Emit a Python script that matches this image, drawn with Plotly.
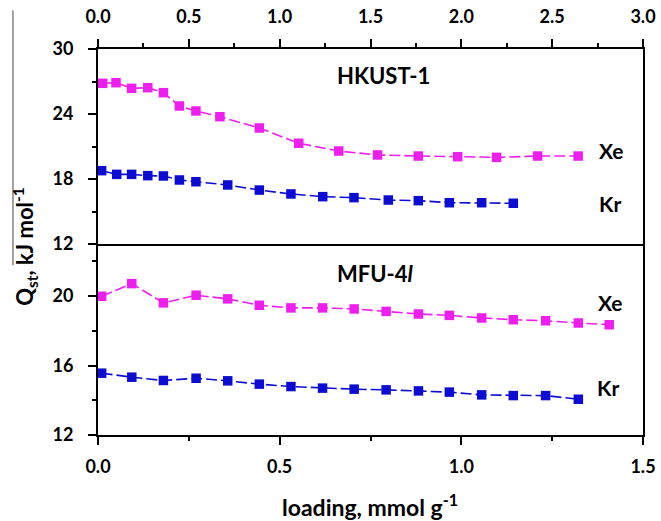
import plotly.graph_objects as go

# ---- data: HKUST-1 (top panel, top x axis 0-3) ----
hk_xe_x = [0.026, 0.099, 0.185, 0.274, 0.36, 0.448, 0.539, 0.671, 0.888, 1.105, 1.325, 1.539, 1.763, 1.98, 2.194, 2.42, 2.643]
hk_xe_y = [26.83, 26.89, 26.37, 26.43, 25.97, 24.74, 24.28, 23.75, 22.71, 21.3, 20.58, 20.22, 20.12, 20.06, 20.0, 20.12, 20.12]
hk_kr_x = [0.02, 0.103, 0.185, 0.274, 0.36, 0.448, 0.539, 0.714, 0.888, 1.062, 1.237, 1.409, 1.598, 1.763, 1.934, 2.112, 2.286]
hk_kr_y = [18.77, 18.43, 18.43, 18.31, 18.28, 17.91, 17.75, 17.45, 16.98, 16.62, 16.37, 16.28, 16.06, 16.0, 15.81, 15.81, 15.76]

# ---- data: MFU-4l (bottom panel, bottom x axis 0-1.5) ----
mfu_xe_x = [0.01, 0.093, 0.18, 0.27, 0.357, 0.444, 0.531, 0.618, 0.705, 0.793, 0.882, 0.967, 1.056, 1.143, 1.232, 1.322, 1.407]
mfu_xe_y = [19.99, 20.72, 19.61, 20.05, 19.84, 19.47, 19.32, 19.32, 19.26, 19.12, 18.97, 18.89, 18.74, 18.64, 18.58, 18.45, 18.35]
mfu_kr_x = [0.01, 0.093, 0.18, 0.27, 0.357, 0.444, 0.531, 0.618, 0.705, 0.793, 0.882, 0.967, 1.056, 1.143, 1.232, 1.322]
mfu_kr_y = [15.56, 15.33, 15.14, 15.27, 15.12, 14.93, 14.79, 14.70, 14.64, 14.60, 14.54, 14.47, 14.31, 14.27, 14.27, 14.06]

top_xticks = [0, 0.5, 1.0, 1.5, 2.0, 2.5, 3.0]
bot_xticks = [0, 0.5, 1.0, 1.5]
top_yticks = [12, 18, 24, 30]
bot_yticks = [12, 16, 20]

XE = "#EE1EEE"
KR = "#0C0CD2"
FONT = "Lato"
DASH = "11px,4px"

fig = go.Figure()

def add(x, y, color, xa, ya):
    fig.add_trace(go.Scatter(
        x=x, y=y, mode="lines+markers", xaxis=xa, yaxis=ya,
        line=dict(color=color, width=1.6, dash=DASH),
        marker=dict(symbol="square", size=9.5, color=color),
        showlegend=False, cliponaxis=False))

add(hk_xe_x, hk_xe_y, XE, "x2", "y2")
add(hk_kr_x, hk_kr_y, KR, "x2", "y2")
add(mfu_xe_x, mfu_xe_y, XE, "x", "y")
add(mfu_kr_x, mfu_kr_y, KR, "x", "y")

tickfont = dict(family=FONT, size=18, color="black", weight="bold")
axis_common = dict(showline=True, linewidth=2, linecolor="black",
                   ticks="outside", ticklen=8, tickwidth=2, tickcolor="black",
                   showgrid=False, zeroline=False, tickfont=tickfont, automargin=False)

def minor(dt, t0):
    return dict(dtick=dt, tick0=t0, ticks="outside", ticklen=4, tickwidth=2,
                tickcolor="black", showgrid=False)

split = 0.4948

fig.update_layout(
    width=661, height=521,
    margin=dict(l=98, r=18, t=49, b=86, autoexpand=False),
    plot_bgcolor="white", paper_bgcolor="white",
    xaxis=dict(domain=[0, 1], anchor="y", range=[0, 1.5], tickvals=bot_xticks,
               tickformat=".1f", ticklabelstandoff=6, mirror=False,
               minor=minor(0.25, 0), **axis_common),
    yaxis=dict(domain=[0, split], anchor="x", range=[12, 23], tickvals=bot_yticks,
               ticklabelstandoff=11, mirror=True, minor=minor(2, 12), **axis_common),
    xaxis2=dict(domain=[0, 1], anchor="y2", side="top", range=[0, 3], tickvals=top_xticks,
                tickformat=".1f", ticklabelstandoff=9, mirror=True,
                minor=minor(0.25, 0), **axis_common),
    yaxis2=dict(domain=[split, 1], anchor="x2", range=[12, 30], tickvals=top_yticks,
                ticklabelstandoff=11, mirror=True, minor=minor(3, 12), **axis_common),
)

def label(text, x, y, size=21, xanchor="center"):
    fig.add_annotation(text=text, x=x, y=y, xref="paper", yref="paper",
                       xanchor=xanchor, yanchor="middle", showarrow=False,
                       font=dict(family=FONT, size=size, color="black", weight="bold"))

label("HKUST-1", 0.523, 0.931, size=22)
label("MFU-4<i>l</i>", 0.510, 0.418, size=22)
label("Xe", 0.941, 0.738)
label("Kr", 0.939, 0.601)
label("Xe", 0.939, 0.342)
label("Kr", 0.936, 0.124)
label("loading, mmol g<sup>-1</sup>", 0.499, -0.183, size=23)

fig.add_annotation(text="Q<sub>st</sub>, kJ mol<sup>-1</sup>", x=-0.134, y=0.49,
                   xref="paper", yref="paper", textangle=-90, showarrow=False,
                   xanchor="center", yanchor="middle",
                   font=dict(family=FONT, size=22, color="black", weight="bold"))

# thin stray vertical rule at far left of the original image
fig.add_shape(type="line", xref="paper", yref="paper", x0=-0.156, x1=-0.156,
              y0=0.44, y1=1.10, line=dict(color="#444444", width=1))

fig.write_html("out.html", config={"displayModeBar": False},
               post_script="document.body.style.margin='0';document.body.style.overflow='hidden';")
